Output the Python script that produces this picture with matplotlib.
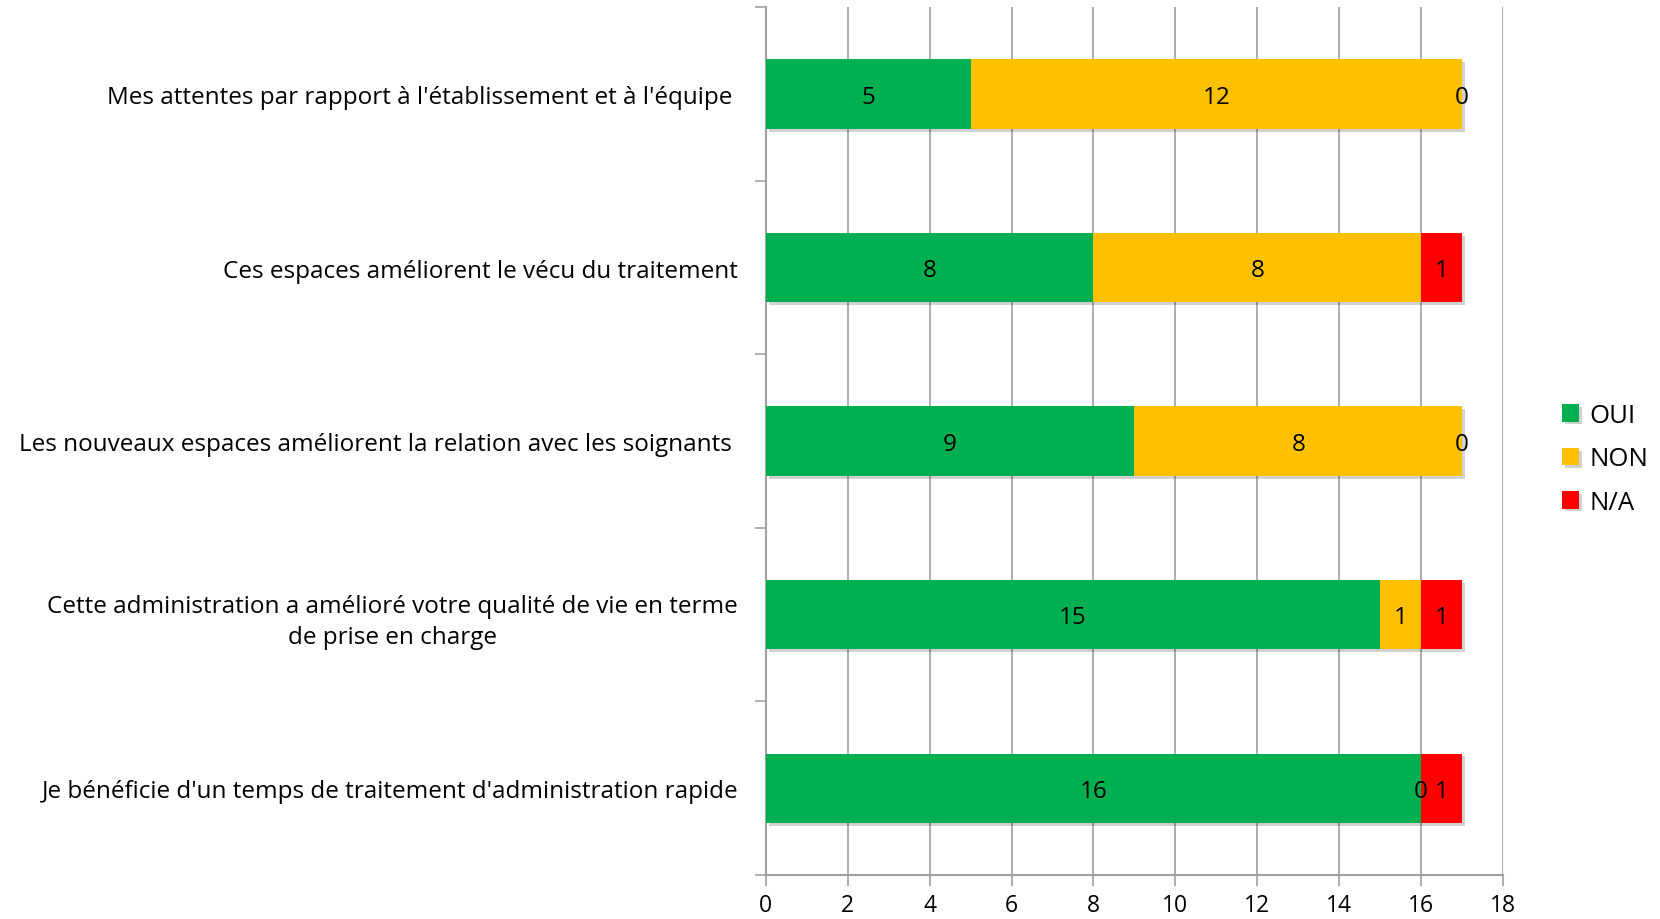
import matplotlib
matplotlib.use("Agg")
import matplotlib.pyplot as plt
import matplotlib.patheffects as pe
import numpy as np

plt.rcParams['font.family'] = ['Open Sans', 'DejaVu Sans']

categories = [
    "Mes attentes par rapport à l'établissement et à l'équipe ",
    "Ces espaces améliorent le vécu du traitement",
    "Les nouveaux espaces améliorent la relation avec les soignants ",
    "Cette administration a amélioré votre qualité de vie en terme\nde prise en charge",
    "Je bénéficie d'un temps de traitement d'administration rapide",
]
series_names = ["OUI", "NON", "N/A"]
oui = [5, 8, 9, 15, 16]
non = [12, 8, 8, 1, 0]
na = [0, 1, 0, 1, 1]
colors = ["#00B050", "#FFC000", "#FF0000"]
xticks = [0, 2, 4, 6, 8, 10, 12, 14, 16, 18]

FS = 17.5

fig = plt.figure(figsize=(16.6, 9.2), dpi=100)
ax = fig.add_axes([0.4614, 0.0478, 0.4440, 0.9432])

y = np.arange(len(categories))[::-1]
left = np.zeros(len(categories))
shadow = [pe.SimplePatchShadow(offset=(2, -2), alpha=0.18, shadow_rgbFace='black'), pe.Normal()]
handles = []
for vals, name, c in zip([oui, non, na], series_names, colors):
    vals = np.array(vals, dtype=float)
    bars = ax.barh(y, vals, left=left, height=0.4, color=c, label=name, zorder=3)
    for b in bars:
        b.set_path_effects(shadow)
    handles.append(bars)
    for yi, l, v in zip(y, left, vals):
        ax.text(l + v / 2, yi - 0.015, f"{int(v)}", ha='center', va='center', fontsize=FS, color='black', zorder=5)
    left = left + vals

ax.set_xlim(0, 18)
ax.set_ylim(-0.5, len(categories) - 0.5)
ax.set_xticks(xticks)
ax.set_xticklabels([str(t) for t in xticks], fontsize=16.5)
ax.set_yticks(y)
ax.set_yticklabels(categories, fontsize=FS, linespacing=1.38, multialignment='center')
ax.set_yticks(np.arange(-0.5, len(categories), 1.0), minor=True)
ax.tick_params(axis='y', which='major', length=0, pad=20)
ax.tick_params(axis='y', which='minor', length=8, color='#A0A0A0', width=1.2)
ax.tick_params(axis='x', which='major', length=8, color='#A0A0A0', width=1.2, pad=5)
ax.xaxis.grid(True, color='#A0A0A0', linewidth=1.2, zorder=0)
ax.set_axisbelow(True)
for s in ['top', 'right']:
    ax.spines[s].set_visible(False)
for s in ['left', 'bottom']:
    ax.spines[s].set_color('#A0A0A0')
    ax.spines[s].set_linewidth(1.5)

fig.legend(handles=handles, labels=series_names, loc='center left',
           bbox_to_anchor=(0.941, 0.5), frameon=False, fontsize=18.5,
           handlelength=0.65, handleheight=0.65, handletextpad=0.4, labelspacing=0.72,
           borderaxespad=0, borderpad=0)

fig.savefig("out.png", dpi=100)
